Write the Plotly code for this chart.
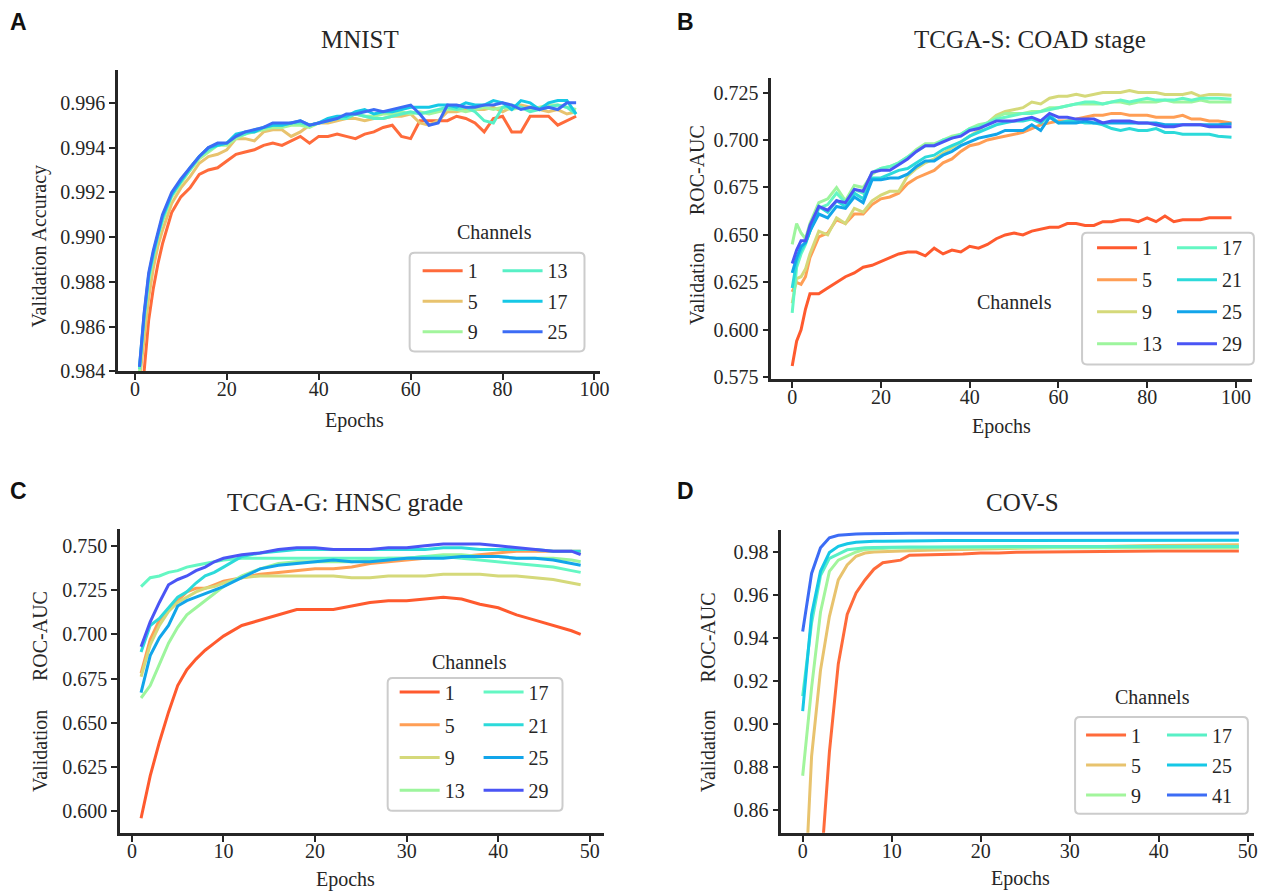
import plotly.graph_objects as go

W, H = 1263, 894
# small correction factors so that positions land where they do in the reference
SX, SY = 1.0063, 1.011
SERIF = "Liberation Serif"
SANS = "Liberation Sans"
DARK = "#262626"

# ---------------- Panel A: MNIST ----------------
a_epochs = [1, 2, 3, 4, 5, 6,
            8, 10, 12, 14, 16, 18, 20, 22, 24, 26,
            28, 30, 32, 34, 36, 38, 40, 42, 44, 46,
            48, 50, 52, 54, 56, 58, 60, 62, 64, 66,
            68, 70, 72, 74, 76, 78, 80, 82, 84, 86,
            88, 90, 92, 94, 96]
a_channels = ["1", "5", "9", "13", "17", "25"]
a_1 = [0.9825, 0.9840, 0.9863, 0.9877, 0.9888, 0.9897,
       0.9911, 0.9918, 0.9922, 0.9928, 0.9930, 0.9931, 0.9934, 0.9937, 0.9938, 0.9939,
       0.9941, 0.9942, 0.9941, 0.9943, 0.9945, 0.9942, 0.9945, 0.9945, 0.9946, 0.9945,
       0.9944, 0.9946, 0.9947, 0.9949, 0.9950, 0.9945, 0.9944, 0.9952, 0.9952, 0.9952,
       0.9952, 0.9954, 0.9953, 0.9951, 0.9947, 0.9953, 0.9954, 0.9947, 0.9947, 0.9954,
       0.9954, 0.9954, 0.9950, 0.9952, 0.9954]
a_5 = [0.9836, 0.9855, 0.9873, 0.9886, 0.9896, 0.9903,
       0.9915, 0.9922, 0.9927, 0.9933, 0.9936, 0.9937, 0.9939, 0.9944, 0.9944, 0.9943,
       0.9947, 0.9948, 0.9948, 0.9945, 0.9947, 0.9950, 0.9951, 0.9951, 0.9952, 0.9953,
       0.9953, 0.9952, 0.9953, 0.9953, 0.9954, 0.9954, 0.9955, 0.9951, 0.9950, 0.9952,
       0.9956, 0.9956, 0.9957, 0.9957, 0.9957, 0.9958, 0.9956, 0.9958, 0.9959, 0.9958,
       0.9957, 0.9956, 0.9957, 0.9955, 0.9956]
a_9 = [0.9840, 0.9862, 0.9880, 0.9891, 0.9900, 0.9907,
       0.9918, 0.9924, 0.9930, 0.9935, 0.9938, 0.9941, 0.9941, 0.9944, 0.9946, 0.9947,
       0.9948, 0.9949, 0.9949, 0.9950, 0.9950, 0.9949, 0.9951, 0.9952, 0.9953, 0.9954,
       0.9955, 0.9954, 0.9954, 0.9955, 0.9955, 0.9956, 0.9955, 0.9956, 0.9955, 0.9956,
       0.9957, 0.9957, 0.9956, 0.9957, 0.9958, 0.9957, 0.9958, 0.9957, 0.9958, 0.9957,
       0.9958, 0.9959, 0.9959, 0.9958, 0.9957]
a_13 = [0.9841, 0.9864, 0.9882, 0.9892, 0.9901, 0.9908,
        0.9919, 0.9925, 0.9930, 0.9936, 0.9939, 0.9941, 0.9942, 0.9945, 0.9946, 0.9948,
        0.9949, 0.9950, 0.9950, 0.9951, 0.9951, 0.9950, 0.9951, 0.9952, 0.9953, 0.9953,
        0.9955, 0.9954, 0.9953, 0.9953, 0.9954, 0.9955, 0.9956, 0.9955, 0.9956, 0.9957,
        0.9958, 0.9957, 0.9958, 0.9956, 0.9952, 0.9951, 0.9958, 0.9959, 0.9958, 0.9956,
        0.9957, 0.9958, 0.9959, 0.9958, 0.9955]
a_17 = [0.9842, 0.9865, 0.9883, 0.9893, 0.9901, 0.9909,
        0.9919, 0.9925, 0.9931, 0.9936, 0.9940, 0.9941, 0.9942, 0.9946, 0.9947, 0.9947,
        0.9949, 0.9950, 0.9950, 0.9951, 0.9952, 0.9950, 0.9951, 0.9953, 0.9954, 0.9954,
        0.9956, 0.9957, 0.9955, 0.9956, 0.9956, 0.9957, 0.9958, 0.9958, 0.9958, 0.9959,
        0.9959, 0.9958, 0.9960, 0.9959, 0.9959, 0.9961, 0.9960, 0.9957, 0.9961, 0.9960,
        0.9957, 0.9960, 0.9961, 0.9961, 0.9955]
a_25 = [0.9842, 0.9866, 0.9884, 0.9894, 0.9902, 0.9910,
        0.9920, 0.9926, 0.9931, 0.9936, 0.9940, 0.9942, 0.9942, 0.9945, 0.9947, 0.9948,
        0.9949, 0.9951, 0.9951, 0.9951, 0.9952, 0.9950, 0.9951, 0.9952, 0.9953, 0.9955,
        0.9955, 0.9956, 0.9957, 0.9956, 0.9957, 0.9958, 0.9959, 0.9955, 0.9950, 0.9951,
        0.9959, 0.9959, 0.9958, 0.9958, 0.9959, 0.9959, 0.9960, 0.9959, 0.9957, 0.9958,
        0.9957, 0.9958, 0.9957, 0.9960, 0.9960]
a_colors = ["#FF6B3B", "#E8C36E", "#A2F59C", "#58F0C6", "#16C8E6", "#3C6CF5"]

# ---------------- Panel B: TCGA-S ----------------
b_epochs = [0, 1, 2, 3, 4,
            6, 8, 10, 12, 14, 16, 18, 20, 22, 24,
            26, 28, 30, 32, 34, 36, 38, 40, 42, 44,
            46, 48, 50, 52, 54, 56, 58, 60, 62, 64,
            66, 68, 70, 72, 74, 76, 78, 80, 82, 84,
            86, 88, 90, 92, 94, 96,
            99]
b_channels = ["1", "5", "9", "13", "17", "21", "25", "29"]
b_1 = [0.581, 0.594, 0.600, 0.611, 0.619,
       0.619, 0.622, 0.625, 0.628, 0.630, 0.633, 0.634, 0.636, 0.638, 0.640,
       0.641, 0.641, 0.639, 0.643, 0.640, 0.642, 0.641, 0.644, 0.643, 0.645,
       0.648, 0.650, 0.651, 0.650, 0.652, 0.653, 0.654, 0.654, 0.656, 0.656,
       0.655, 0.655, 0.657, 0.657, 0.658, 0.658, 0.657, 0.659, 0.657, 0.660,
       0.657, 0.658, 0.658, 0.658, 0.659, 0.659,
       0.659]
b_5 = [0.620, 0.625, 0.624, 0.628, 0.638,
       0.649, 0.651, 0.658, 0.656, 0.661, 0.661, 0.666, 0.669, 0.670, 0.672,
       0.677, 0.680, 0.682, 0.684, 0.688, 0.690, 0.694, 0.697, 0.698, 0.700,
       0.701, 0.702, 0.703, 0.704, 0.706, 0.708, 0.709, 0.710, 0.710, 0.711,
       0.712, 0.713, 0.713, 0.714, 0.714, 0.713, 0.713, 0.713, 0.712, 0.712,
       0.712, 0.713, 0.711, 0.711, 0.710, 0.710,
       0.709]
b_9 = [0.614, 0.627, 0.628, 0.632, 0.640,
       0.652, 0.650, 0.659, 0.656, 0.664, 0.662, 0.668, 0.671, 0.673, 0.673,
       0.681, 0.685, 0.688, 0.690, 0.693, 0.696, 0.699, 0.702, 0.705, 0.709,
       0.713, 0.715, 0.716, 0.717, 0.720, 0.719, 0.722, 0.723, 0.723, 0.724,
       0.723, 0.724, 0.725, 0.725, 0.725, 0.726, 0.725, 0.725, 0.725, 0.724,
       0.724, 0.724, 0.725, 0.723, 0.724, 0.724,
       0.7235]
b_13 = [0.645, 0.656, 0.651, 0.648, 0.656,
        0.667, 0.669, 0.675, 0.668, 0.676, 0.675, 0.682, 0.685, 0.686, 0.688,
        0.691, 0.695, 0.698, 0.698, 0.700, 0.702, 0.703, 0.706, 0.708, 0.709,
        0.712, 0.714, 0.714, 0.714, 0.715, 0.715, 0.717, 0.717, 0.718, 0.719,
        0.719, 0.719, 0.719, 0.720, 0.720, 0.719, 0.720, 0.720, 0.720, 0.721,
        0.720, 0.720, 0.720, 0.721, 0.720, 0.720,
        0.720]
b_17 = [0.609, 0.633, 0.640, 0.645, 0.652,
        0.664, 0.666, 0.672, 0.667, 0.674, 0.672, 0.683, 0.685, 0.686, 0.688,
        0.691, 0.694, 0.697, 0.697, 0.700, 0.701, 0.703, 0.706, 0.707, 0.709,
        0.711, 0.712, 0.713, 0.714, 0.714, 0.715, 0.716, 0.717, 0.718, 0.719,
        0.720, 0.720, 0.719, 0.720, 0.721, 0.720, 0.721, 0.722, 0.721, 0.721,
        0.721, 0.722, 0.721, 0.722, 0.722, 0.722,
        0.7215]
b_21 = [0.622, 0.636, 0.642, 0.646, 0.652,
        0.665, 0.662, 0.668, 0.665, 0.672, 0.669, 0.680, 0.680, 0.682, 0.684,
        0.685, 0.688, 0.691, 0.692, 0.695, 0.697, 0.699, 0.702, 0.704, 0.706,
        0.708, 0.709, 0.710, 0.710, 0.711, 0.709, 0.713, 0.709, 0.710, 0.710,
        0.709, 0.709, 0.708, 0.706, 0.705, 0.706, 0.705, 0.705, 0.706, 0.704,
        0.704, 0.703, 0.703, 0.703, 0.703, 0.702,
        0.7015]
b_25 = [0.630, 0.638, 0.644, 0.646, 0.652,
        0.661, 0.659, 0.665, 0.664, 0.670, 0.667, 0.679, 0.679, 0.680, 0.680,
        0.682, 0.686, 0.689, 0.689, 0.692, 0.694, 0.697, 0.699, 0.701, 0.702,
        0.703, 0.705, 0.705, 0.705, 0.708, 0.705, 0.712, 0.709, 0.709, 0.709,
        0.710, 0.709, 0.709, 0.709, 0.709, 0.709, 0.709, 0.709, 0.709, 0.708,
        0.708, 0.708, 0.708, 0.708, 0.708, 0.708,
        0.7085]
b_29 = [0.635, 0.642, 0.647, 0.647, 0.655,
        0.665, 0.663, 0.668, 0.667, 0.674, 0.673, 0.683, 0.684, 0.684, 0.687,
        0.690, 0.694, 0.697, 0.697, 0.699, 0.701, 0.702, 0.705, 0.706, 0.708,
        0.710, 0.710, 0.710, 0.711, 0.712, 0.710, 0.714, 0.712, 0.712, 0.711,
        0.711, 0.711, 0.709, 0.710, 0.710, 0.710, 0.709, 0.709, 0.708, 0.707,
        0.707, 0.708, 0.708, 0.708, 0.707, 0.707,
        0.707]
bc_colors = ["#FF5A2E", "#FF9E55", "#D5D97A", "#9DF59D",
             "#64F7C3", "#2CDADA", "#12A5EA", "#4A55F5"]

# ---------------- Panel C: TCGA-G ----------------
c_epochs = [1, 2, 3, 4, 5, 6, 7, 8, 9, 10,
            12, 14, 16, 18, 20, 22, 24, 26, 28, 30,
            32, 34, 36, 38, 40, 42, 44, 46, 48,
            49]
c_channels = ["1", "5", "9", "13", "17", "21", "25", "29"]
c_1 = [0.596, 0.620, 0.639, 0.656, 0.671, 0.680, 0.686, 0.691, 0.695, 0.699,
       0.705, 0.708, 0.711, 0.714, 0.714, 0.714, 0.716, 0.718, 0.719, 0.719,
       0.720, 0.721, 0.720, 0.717, 0.715, 0.711, 0.708, 0.705, 0.702,
       0.700]
c_5 = [0.678, 0.697, 0.708, 0.714, 0.719, 0.724, 0.726, 0.726, 0.728, 0.730,
       0.732, 0.734, 0.735, 0.736, 0.737, 0.737, 0.738, 0.740, 0.741, 0.742,
       0.743, 0.744, 0.744, 0.745, 0.746, 0.747, 0.747, 0.747, 0.747,
       0.747]
c_9 = [0.676, 0.694, 0.705, 0.713, 0.718, 0.721, 0.724, 0.726, 0.727, 0.729,
       0.732, 0.733, 0.733, 0.733, 0.733, 0.733, 0.732, 0.732, 0.733, 0.733,
       0.733, 0.734, 0.734, 0.734, 0.733, 0.733, 0.732, 0.731, 0.729,
       0.728]
c_13 = [0.664, 0.671, 0.683, 0.695, 0.704, 0.711, 0.715, 0.719, 0.723, 0.727,
        0.733, 0.737, 0.740, 0.741, 0.741, 0.741, 0.741, 0.742, 0.743, 0.743,
        0.744, 0.745, 0.745, 0.744, 0.744, 0.743, 0.743, 0.743, 0.742,
        0.741]
c_17 = [0.727, 0.732, 0.733, 0.735, 0.736, 0.738, 0.739, 0.740, 0.741, 0.742,
        0.743, 0.743, 0.743, 0.743, 0.743, 0.743, 0.743, 0.743, 0.743, 0.743,
        0.744, 0.744, 0.743, 0.742, 0.741, 0.740, 0.739, 0.738, 0.736,
        0.735]
c_21 = [0.690, 0.705, 0.709, 0.715, 0.721, 0.724, 0.729, 0.733, 0.735, 0.738,
        0.744, 0.746, 0.747, 0.748, 0.748, 0.748, 0.748, 0.748, 0.748, 0.748,
        0.748, 0.749, 0.749, 0.748, 0.748, 0.748, 0.748, 0.747, 0.747,
        0.747]
c_25 = [0.667, 0.688, 0.698, 0.705, 0.716, 0.719, 0.721, 0.723, 0.725, 0.727,
        0.732, 0.737, 0.739, 0.740, 0.741, 0.742, 0.741, 0.741, 0.742, 0.743,
        0.743, 0.743, 0.744, 0.744, 0.744, 0.743, 0.743, 0.742, 0.740,
        0.739]
c_29 = [0.693, 0.707, 0.718, 0.728, 0.731, 0.733, 0.736, 0.738, 0.741, 0.743,
        0.745, 0.746, 0.748, 0.749, 0.749, 0.748, 0.748, 0.748, 0.749, 0.749,
        0.750, 0.751, 0.751, 0.751, 0.750, 0.749, 0.748, 0.747, 0.747,
        0.745]

# ---------------- Panel D: COV-S ----------------
d_epochs = [0, 1, 2, 3, 4, 5, 6, 7, 8, 9, 10, 11, 12,
            14, 16, 18, 20, 22, 24, 26, 28, 30, 32, 34, 36, 38, 40, 42, 44, 46, 48,
            49]
d_channels = ["1", "5", "9", "17", "25", "41"]
d_1 = [0.730, 0.780, 0.830, 0.887, 0.928, 0.951, 0.961, 0.967, 0.972, 0.975, 0.9757, 0.9762, 0.9785,
       0.9786, 0.9789, 0.9791, 0.9795, 0.9795, 0.9799, 0.9800, 0.9801, 0.9802, 0.9802, 0.9803,
       0.9803, 0.9803, 0.9804, 0.9804, 0.9804, 0.9804, 0.9804,
       0.9804]
d_5 = [0.800, 0.885, 0.925, 0.950, 0.967, 0.974, 0.978, 0.9795, 0.9800, 0.9802, 0.9804, 0.9805, 0.9806,
       0.9808, 0.9810, 0.9812, 0.9814, 0.9816, 0.9818, 0.9820, 0.9822, 0.9824, 0.9825, 0.9827,
       0.9828, 0.9829, 0.9830, 0.9831, 0.9832, 0.9833, 0.9834,
       0.9834]
d_9 = [0.876, 0.917, 0.952, 0.971, 0.9762, 0.978, 0.980, 0.9812, 0.9815, 0.9817, 0.9818, 0.9818, 0.9819,
       0.9819, 0.9819, 0.9820, 0.9820, 0.9820, 0.9820, 0.9820, 0.9820, 0.9820, 0.9820, 0.9820,
       0.9820, 0.9820, 0.9820, 0.9820, 0.9820, 0.9820, 0.9820,
       0.9820]
d_17 = [0.913, 0.947, 0.969, 0.977, 0.979, 0.981, 0.9815, 0.9820, 0.9821, 0.9822, 0.9822, 0.9823, 0.9823,
        0.9823, 0.9824, 0.9824, 0.9824, 0.9825, 0.9825, 0.9825, 0.9825, 0.9825, 0.9825, 0.9826,
        0.9826, 0.9826, 0.9826, 0.9826, 0.9826, 0.9826, 0.9826,
        0.9826]
d_25 = [0.906, 0.951, 0.971, 0.9797, 0.9826, 0.9838, 0.9845, 0.9849, 0.9850, 0.9850, 0.9851, 0.9852, 0.9852,
        0.9852, 0.9853, 0.9853, 0.9853, 0.9854, 0.9854, 0.9854, 0.9854, 0.9854, 0.9855, 0.9855,
        0.9855, 0.9855, 0.9855, 0.9855, 0.9855, 0.9855, 0.9855,
        0.9855]
d_41 = [0.943, 0.970, 0.982, 0.9866, 0.9878, 0.9882, 0.9884, 0.9885, 0.9886, 0.9886, 0.9887, 0.9887, 0.9887,
        0.9887, 0.9887, 0.9887, 0.9887, 0.9887, 0.9887, 0.9888, 0.9888, 0.9888, 0.9888, 0.9888,
        0.9888, 0.9888, 0.9888, 0.9888, 0.9888, 0.9888, 0.9888,
        0.9888]
d_colors = ["#FF6B3B", "#E8C36E", "#A2F59C", "#58F0C6", "#16C8E6", "#3C6CF5"]

# tick labels
a_xticks = [0, 20, 40, 60, 80, 100]
a_yticks = [0.984, 0.986, 0.988, 0.990, 0.992, 0.994, 0.996]
b_xticks = [0, 20, 40, 60, 80, 100]
b_yticks = [0.575, 0.600, 0.625, 0.650, 0.675, 0.700, 0.725]
c_xticks = [0, 10, 20, 30, 40, 50]
c_yticks = [0.600, 0.625, 0.650, 0.675, 0.700, 0.725, 0.750]
d_xticks = [0, 10, 20, 30, 40, 50]
d_yticks = [0.86, 0.88, 0.90, 0.92, 0.94, 0.96, 0.98]


# ---------------- helpers (pixel -> paper fraction) ----------------
def px_x(p):
    return min(p * SX, W) / W


def px_y(p):
    return 1 - min(p * SY, H) / H


fig = go.Figure()

panels = [
    ("A", "", a_epochs, [a_1, a_5, a_9, a_13, a_17, a_25], a_channels, a_colors,
     ("legend", "legend2"), 3),
    ("B", "2", b_epochs, [b_1, b_5, b_9, b_13, b_17, b_21, b_25, b_29], b_channels, bc_colors,
     ("legend3", "legend4"), 4),
    ("C", "3", c_epochs, [c_1, c_5, c_9, c_13, c_17, c_21, c_25, c_29], c_channels, bc_colors,
     ("legend5", "legend6"), 4),
    ("D", "4", d_epochs, [d_1, d_5, d_9, d_17, d_25, d_41], d_channels, d_colors,
     ("legend7", "legend8"), 3),
]

for key, suf, xs, series, names, colors, legs, split in panels:
    for i, (ys, nm, col) in enumerate(zip(series, names, colors)):
        fig.add_trace(go.Scatter(
            x=xs, y=ys, mode="lines", name=nm,
            line=dict(color=col, width=3),
            xaxis="x" + suf, yaxis="y" + suf,
            legend=legs[0] if i < split else legs[1],
            legendgroup=key + nm,
            showlegend=True,
            hoverinfo="skip",
        ))


def axis_style(**kw):
    base = dict(showline=True, linecolor=DARK, linewidth=2.5,
                ticks="outside", ticklen=6, tickwidth=2, tickcolor=DARK,
                showgrid=False, zeroline=False, mirror=False,
                tickfont=dict(family=SERIF, size=20, color=DARK))
    base.update(kw)
    return base


layout = dict(
    width=W, height=H,
    margin=dict(l=0, r=0, t=0, b=0),
    paper_bgcolor="white", plot_bgcolor="white",
    font=dict(family=SERIF, size=20, color=DARK),
    xaxis=axis_style(domain=[px_x(118), px_x(601)], range=[-3.7, 101.3],
                     tickvals=a_xticks, anchor="y", ticklabelstandoff=-8),
    yaxis=axis_style(domain=[px_y(372), px_y(70)], range=[0.984, 0.99747],
                     tickvals=a_yticks, tickformat=".3f", anchor="x"),
    xaxis2=axis_style(domain=[px_x(772), px_x(1253)], range=[-4.7, 103.6],
                      tickvals=b_xticks, anchor="y2", ticklabelstandoff=-8),
    yaxis2=axis_style(domain=[px_y(380), px_y(78)], range=[0.5739, 0.7327],
                      tickvals=b_yticks, tickformat=".3f", anchor="x2"),
    xaxis3=axis_style(domain=[px_x(120), px_x(605)], range=[-1.31, 51.6],
                      tickvals=c_xticks, anchor="y3", ticklabelstandoff=-8),
    yaxis3=axis_style(domain=[px_y(834), px_y(530)], range=[0.5878, 0.7594],
                      tickvals=c_yticks, tickformat=".3f", anchor="x3"),
    xaxis4=axis_style(domain=[px_x(782), px_x(1259)], range=[-2.4, 50.7],
                      tickvals=d_xticks, anchor="y4", ticklabelstandoff=-8),
    yaxis4=axis_style(domain=[px_y(834), px_y(531)], range=[0.8495, 0.9901],
                      tickvals=d_yticks, tickformat=".2f", anchor="x4"),
    showlegend=True,
)

# legends: (name, text-left px, top px, group gap); symbol width 40 px
ITEMW = 40
legend_specs = [
    ("legend", 468, 251.5, 1.5), ("legend2", 548, 251.5, 1.5),
    ("legend3", 1143, 228.5, 3), ("legend4", 1223, 228.5, 3),
    ("legend5", 445, 673.5, 3.7), ("legend6", 529, 673.5, 3.7),
    ("legend7", 1132, 716.5, 1), ("legend8", 1213, 716.5, 1),
]
for name, tx, ty, gap in legend_specs:
    layout[name] = dict(
        x=px_x(tx - ITEMW - 10), y=px_y(ty), xanchor="left", yanchor="top",
        xref="paper", yref="paper",
        bgcolor="rgba(0,0,0,0)", borderwidth=0, orientation="v",
        tracegroupgap=gap, itemwidth=ITEMW,
        font=dict(family=SERIF, size=20, color=DARK),
    )

fig.update_layout(**layout)


# legend frames (rounded rectangles)
def rounded_box(x0, y0, x1, y1, r=5):
    X0, X1 = px_x(x0), px_x(x1)
    Y0, Y1 = px_y(y0), px_y(y1)
    rx, ry = r / W, r / H
    return (f"M {X0 + rx},{Y0} L {X1 - rx},{Y0} Q {X1},{Y0} {X1},{Y0 - ry} "
            f"L {X1},{Y1 + ry} Q {X1},{Y1} {X1 - rx},{Y1} "
            f"L {X0 + rx},{Y1} Q {X0},{Y1} {X0},{Y1 + ry} "
            f"L {X0},{Y0 - ry} Q {X0},{Y0} {X0 + rx},{Y0} Z")


for bx in [(410, 253, 585, 352), (1083, 233, 1255, 365),
           (388, 679, 563, 812), (1076, 718, 1249, 815)]:
    fig.add_shape(type="path", path=rounded_box(*bx), xref="paper", yref="paper",
                  line=dict(color="#CCCCCC", width=2), fillcolor="rgba(255,255,255,0.85)",
                  layer="above")

annotations = []


def ann(text, x, y, size=20, family=SERIF, angle=0, bold=False):
    annotations.append(dict(
        text=f"<b>{text}</b>" if bold else text,
        x=px_x(x), y=px_y(y), xref="paper", yref="paper",
        xanchor="center", yanchor="middle", showarrow=False,
        textangle=angle,
        font=dict(family=family, size=size, color="#111111" if bold else DARK),
    ))


# panel letters
ann("A", 19, 22, size=23, family=SANS, bold=True)
ann("B", 686, 22, size=23, family=SANS, bold=True)
ann("C", 19, 492, size=23, family=SANS, bold=True)
ann("D", 686, 492, size=23, family=SANS, bold=True)
# titles
ann("MNIST", 360, 40, size=25)
ann("TCGA-S: COAD stage", 1031, 40, size=25)
ann("TCGA-G: HNSC grade", 345, 503, size=25)
ann("COV-S", 1023, 503, size=25)
# x labels
ann("Epochs", 355, 421)
ann("Epochs", 1002, 427)
ann("Epochs", 346, 881)
ann("Epochs", 1021, 880)
# y labels
ann("Validation Accuracy", 40, 246, angle=-90)
ann("ROC-AUC", 697, 170, angle=-90)
ann("Validation", 697, 284, angle=-90)
ann("ROC-AUC", 40, 637, angle=-90)
ann("Validation", 40, 752, angle=-90)
ann("ROC-AUC", 709, 638, angle=-90)
ann("Validation", 709, 752, angle=-90)
# legend titles
ann("Channels", 495, 232)
ann("Channels", 1015, 302)
ann("Channels", 470, 663)
ann("Channels", 1154, 698)

fig.update_layout(annotations=annotations)

fig.write_html(
    "out.html",
    config={"displayModeBar": False},
    post_script="document.body.style.margin='0px';"
                "document.documentElement.style.overflow='hidden';",
)
